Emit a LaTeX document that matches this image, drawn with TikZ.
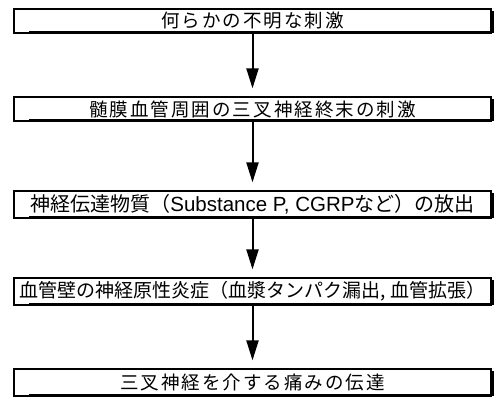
\documentclass[tikz,border=0pt]{standalone}
\usepackage{fontspec}
\newfontfamily\jp{Noto Sans CJK JP}
\newfontfamily\jpsp{Noto Sans CJK JP}[LetterSpace=11]
\newfontfamily\lat{Liberation Sans}
\usetikzlibrary{arrows.meta}
\tikzset{
  flowbox/.style={draw=black, line width=1.2pt, fill=white, rectangle,
    minimum width=477pt, inner sep=0pt, text=black},
  arr/.style={line width=2pt, -{Triangle[width=12pt,length=20pt]}, shorten >=8pt},
  shadowline/.style={line width=2.4pt, line cap=butt}
}
\newcommand{\boxshadow}[1]{%
  \draw[shadowline] ([xshift=16pt,yshift=1.6pt]#1.south west) -- ([xshift=1.6pt,yshift=1.6pt]#1.south east) -- ([xshift=1.6pt,yshift=-3pt]#1.north east);}
\begin{document}
\begin{tikzpicture}[x=1pt,y=-1pt]
\useasboundingbox (0,0) rectangle (499,403);
\fill[white] (0,0) rectangle (499,403);
\node[flowbox, minimum height=24pt] (b1) at (252.5,21) {\jpsp\fontsize{18.5pt}{18.5pt}\selectfont 何らかの不明な刺激};
\node[flowbox, minimum height=24pt] (b2) at (252.5,109) {\jpsp\fontsize{18.5pt}{18.5pt}\selectfont 髄膜血管周囲の三叉神経終末の刺激};
\node[flowbox, minimum height=27pt] (b3) at (252.5,204.5) {\jp\fontsize{20pt}{20pt}\selectfont 神経伝達物質（{\lat\fontsize{20.5pt}{20.5pt}\selectfont Substance P, CGRP}など）の放出};
\node[flowbox, minimum height=27pt] (b4) at (252.5,291.5) {\jp\fontsize{19pt}{19pt}\selectfont 血管壁の神経原性炎症（血漿タンパク漏出, 血管拡張）};
\node[flowbox, minimum height=27pt] (b5) at (252.5,382.5) {\jpsp\fontsize{18.5pt}{18.5pt}\selectfont 三叉神経を介する痛みの伝達};
\boxshadow{b1}
\boxshadow{b2}
\boxshadow{b3}
\boxshadow{b4}
\boxshadow{b5}
\draw[arr] (b1) -- (b2);
\draw[arr] (b2) -- (b3);
\draw[arr] (b3) -- (b4);
\draw[arr] (b4) -- (b5);
\end{tikzpicture}
\end{document}
